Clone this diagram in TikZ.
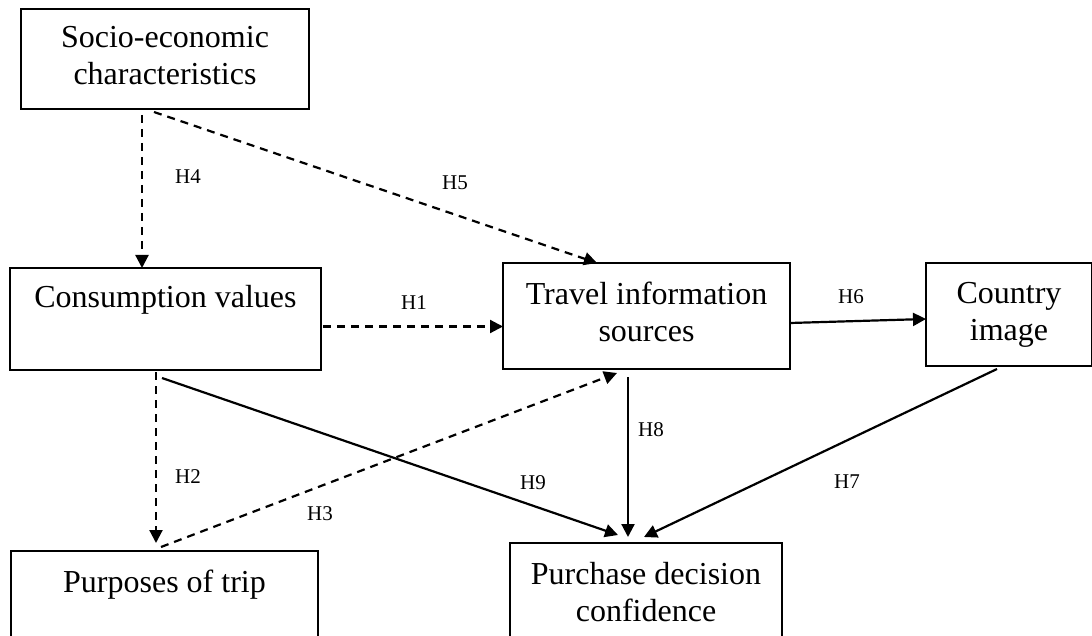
\documentclass[tikz,border=0pt]{standalone}
\usepackage{fontspec}
\setmainfont{Liberation Serif}
\usetikzlibrary{arrows.meta,calc}
\begin{document}
\begin{tikzpicture}[x=1pt,y=-1pt,
  box/.style={draw,line width=2.2pt,inner sep=0pt,outer sep=0pt,align=center,
    font=\fontsize{32}{37}\selectfont},
  lbl/.style={font=\fontsize{21}{24}\selectfont,inner sep=0pt},
  conn/.style={line width=2.2pt,-{Triangle[length=13pt,width=13pt]}},
  dsh/.style={conn,dash pattern=on 8pt off 6pt}]
\useasboundingbox (0,0) rectangle (1092,636);
\clip (0,0) rectangle (1092,636);

% boxes
\node[box,minimum width=288pt,minimum height=100pt] (socio) at (165,59)
  {\strut Socio-economic\\\strut characteristics};
\node[box,minimum width=311pt,minimum height=102pt] (cons) at (165.5,319)
  {\strut Consumption values\\\strut};
\node[box,minimum width=287pt,minimum height=106pt] (travel) at (646.5,316)
  {\strut Travel information\\\strut sources};
\node[box,minimum width=166pt,minimum height=103pt] (country) at (1009,314.5)
  {\strut Country\\\strut image};
\node[box,minimum width=307pt,minimum height=105pt] (purp) at (164.5,603.5)
  {\strut Purposes of trip\\\strut};
\node[box,minimum width=272pt,minimum height=105pt] (purch) at (646,595.5)
  {\strut Purchase decision\\\strut confidence};

% connectors
\draw[dsh] ([shift={(121,6)}]socio.south west) -- ([shift={(132,0)}]cons.north west);
\draw[dsh] ([shift={(133,3)}]socio.south west) -- ([shift={(94,0)}]travel.north west);
\draw[dsh] ([shift={(2,7.5)}]cons.east) -- ([shift={(0,10.5)}]travel.west);
\draw[dsh] ([shift={(146,2)}]cons.south west) -- ([shift={(145,-8)}]purp.north west);
\draw[dsh] ([shift={(150,-4)}]purp.north west) -- ([shift={(114,4)}]travel.south west);
\draw[conn] ([shift={(152,8)}]cons.south west) -- ([shift={(108,-8)}]purch.north west);
\draw[conn] ([shift={(0,7)}]travel.east) -- ([shift={(0,4.5)}]country.west);
\draw[conn] ([shift={(125,8)}]travel.south west) -- ([shift={(118,-6)}]purch.north west);
\draw[conn] ([shift={(71,3)}]country.south west) -- ([shift={(134,-6)}]purch.north west);

% labels
\node[lbl] (h4) at (188,177) {H4};
\node[lbl] (h5) at (455,183) {H5};
\node[lbl] (h1) at (414,303) {H1};
\node[lbl] (h6) at (851,297) {H6};
\node[lbl] (h2) at (188,477) {H2};
\node[lbl] (h3) at (320,514) {H3};
\node[lbl] (h9) at (533,483) {H9};
\node[lbl] (h8) at (651,430) {H8};
\node[lbl] (h7) at (847,482) {H7};
\end{tikzpicture}
\end{document}
